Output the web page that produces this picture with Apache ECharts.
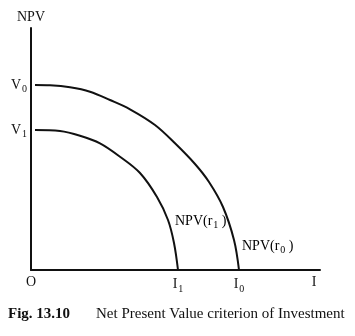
<!DOCTYPE html>
<html><head><meta charset="utf-8">
<script src="https://cdn.jsdelivr.net/npm/echarts@6/dist/echarts.min.js"></script>
<style>html,body{margin:0;padding:0;background:#fff}#c{width:355px;height:336px}</style>
</head><body><div id="c"></div>
<script>
// Data (schematic units)
const npvR0 = [[4,185],[19,184.7],[39,182.7],[59,178.3],[79,170],[99,160.7],[124,145],[144,126.7],[164,106],[178,88],[192,63],[203,30],[208,0]];
const npvR1 = [[4,140],[29,139],[49,134.3],[69,126.7],[89,113.3],[109,97],[126,73],[137,50],[143,27],[147,0]];
const xTickValues = [0, 147, 208, 283];
const xTickLabels = ['{m|O}', '{m|I}{s|1}', '{m|I}{s|0}', '{m|I}'];
const yTickValues = [140, 185];
const yTickLabels = ['{m|V}{s|1}', '{m|V}{s|0}'];
const seriesNames = ['NPV(r1)', 'NPV(r0)'];
const xMax = 289, yMax = 242;
const font = 'Liberation Serif';

const chart = echarts.init(document.getElementById('c'));
const rich = {
  m: {fontSize: 14, fontFamily: font, color: '#111'},
  s: {fontSize: 10, fontFamily: font, color: '#111', padding: [9, 0, 0, 1]}
};
chart.setOption({
  animation: false,
  backgroundColor: '#fff',
  grid: {left: 31, top: 28, right: 35, bottom: 66},
  xAxis: {
    type: 'value', min: 0, max: xMax,
    axisLine: {show: true, lineStyle: {color: '#111', width: 2}},
    axisTick: {show: false}, splitLine: {show: false},
    axisLabel: {
      customValues: xTickValues, margin: 5, rich: rich,
      formatter: v => xTickLabels[xTickValues.indexOf(v)] || ''
    }
  },
  yAxis: {
    type: 'value', min: 0, max: yMax,
    name: 'NPV', nameLocation: 'end', nameGap: 4,
    nameTextStyle: {fontFamily: font, fontSize: 14, color: '#111', align: 'center'},
    axisLine: {show: true, lineStyle: {color: '#111', width: 2}},
    axisTick: {show: false}, splitLine: {show: false},
    axisLabel: {
      customValues: yTickValues, margin: 4, rich: rich,
      formatter: v => yTickLabels[yTickValues.indexOf(v)] || ''
    }
  },
  series: [
    {name: seriesNames[0], type: 'line', data: npvR1, smooth: 0.35, showSymbol: false,
     lineStyle: {color: '#111', width: 2}},
    {name: seriesNames[1], type: 'line', data: npvR0, smooth: 0.35, showSymbol: false,
     lineStyle: {color: '#111', width: 2}}
  ],
  graphic: [
    {type: 'text', left: 175, top: 214, style: {rich: rich, text: '{m|NPV(r}{s|1}{m| )}'}},
    {type: 'text', left: 242, top: 239, style: {rich: rich, text: '{m|NPV(r}{s|0}{m| )}'}},
    {type: 'text', left: 8, top: 307, style: {text: 'Fig. 13.10', font: 'bold 15px ' + font, fill: '#111'}},
    {type: 'text', left: 96, top: 307, style: {text: 'Net Present Value criterion of Investment', font: '15px ' + font, fill: '#111'}}
  ]
});
</script></body></html>
